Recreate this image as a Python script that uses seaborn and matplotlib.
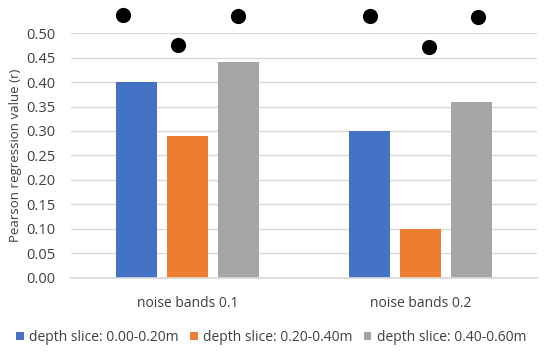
import matplotlib
matplotlib.use("Agg")
import matplotlib.pyplot as plt
import seaborn as sns
import pandas as pd
import numpy as np

categories = ["noise bands 0.1", "noise bands 0.2"]
series = ["depth slice: 0.00-0.20m", "depth slice: 0.20-0.40m", "depth slice: 0.40-0.60m"]
values_s1 = [0.40, 0.30]
values_s2 = [0.29, 0.10]
values_s3 = [0.44, 0.36]
colors = ["#4472C4", "#ED7D31", "#A5A5A5"]

# significance dots (x offset from group center in category units, y value)
dot_offsets_g1 = [-0.277, -0.041, 0.217]
dot_values_g1 = [0.537, 0.476, 0.535]
dot_offsets_g2 = [-0.217, 0.036, 0.247]
dot_values_g2 = [0.535, 0.471, 0.533]

yticks = [0.00, 0.05, 0.10, 0.15, 0.20, 0.25, 0.30, 0.35, 0.40, 0.45, 0.50]

rows = []
for s, vals in zip(series, [values_s1, values_s2, values_s3]):
    for c, v in zip(categories, vals):
        rows.append({"category": c, "series": s, "value": v})
df = pd.DataFrame(rows)

sns.set_theme(style="white")
plt.rcParams["font.family"] = ["Open Sans", "DejaVu Sans"]

fig = plt.figure(figsize=(5.5, 3.53), dpi=100)
ax = fig.add_axes([0.129, 0.2125, 0.847, 0.694])

sns.barplot(data=df, x="category", y="value", hue="series", order=categories,
            hue_order=series, palette=colors, width=0.657, gap=0.2,
            saturation=1, ax=ax, legend=True, errorbar=None, linewidth=0)

for gi, (offs, vals) in enumerate([(dot_offsets_g1, dot_values_g1), (dot_offsets_g2, dot_values_g2)]):
    xs = [gi + o for o in offs]
    ax.scatter(xs, vals, s=120, color="black", marker="o", clip_on=False, zorder=5,
               linewidths=0)

ax.set_ylim(0, 0.5)
ax.set_xlim(-0.5, 1.5)
ax.set_yticks(yticks)
ax.set_yticklabels([f"{t:.2f}" for t in yticks], fontsize=10.5, color="#404040")
ax.tick_params(axis="x", labelsize=10, colors="#404040", length=0, pad=13)
ax.tick_params(axis="y", length=0, pad=11)
ax.yaxis.grid(True, color="#d9d9d9", linewidth=1)
ax.set_axisbelow(True)
for sp in ["top", "right", "left"]:
    ax.spines[sp].set_visible(False)
ax.spines["bottom"].set_color("#d9d9d9")
ax.set_xlabel("")
ax.set_ylabel("Pearson regression value (r)", fontsize=9.5, color="#404040", labelpad=3)

leg = ax.legend(loc="upper center", bbox_to_anchor=(0.43, -0.19), ncol=3, frameon=False,
                fontsize=10, handlelength=0.55, handleheight=0.55, handletextpad=0.4,
                columnspacing=0.8, borderaxespad=0)
for t in leg.get_texts():
    t.set_color("#404040")

fig.savefig("out.png", dpi=100)
